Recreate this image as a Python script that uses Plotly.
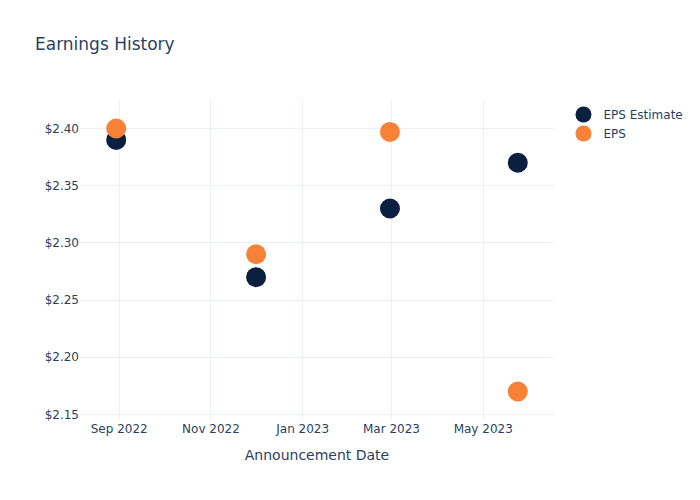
import plotly.graph_objects as go

dates = ["2022-08-30", "2022-12-01", "2023-02-28", "2023-05-24"]
eps_estimate = [2.39, 2.27, 2.33, 2.37]
eps_actual = [2.40, 2.29, 2.397, 2.17]

fig = go.Figure()
fig.add_trace(go.Scatter(x=dates, y=eps_estimate, mode="markers", name="EPS Estimate",
                         marker=dict(color="#0b1f41", size=20)))
fig.add_trace(go.Scatter(x=dates, y=eps_actual, mode="markers", name="EPS",
                         marker=dict(color="#f68137", size=20)))
fig.update_layout(
    template="plotly_white",
    width=700, height=500,
    font=dict(family="DejaVu Sans"),
    title=dict(text="Earnings History"),
    xaxis=dict(title=dict(text="Announcement Date"), tickformat="%b %Y", dtick="M2"),
    yaxis=dict(tickprefix="$", tickformat=".2f"),
)
fig.write_html("out.html")
